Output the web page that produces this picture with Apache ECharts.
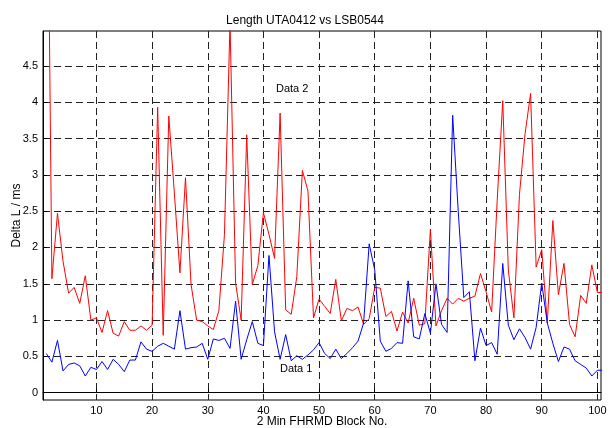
<!DOCTYPE html>
<html lang="en">
<head>
    <meta charset="UTF-8">
    <title>Length UTA0412 vs LSB0544</title>
    <script src="https://cdn.jsdelivr.net/npm/echarts@6/dist/echarts.min.js"></script>
    <style>
        body { margin: 0; background: #fff; }
        #chart { width: 610px; height: 428px; }
    </style>
</head>
<body>
    <div id="chart"></div>
<script>
    // block numbers 1..101 (last one only shows as the short tail at the right edge)
    var blockNo = [];
    for (var i = 1; i <= 101; i++) blockNo.push(i);

    // Data 2 (red)
    var data2 = [
        9.2, 1.57, 2.47, 1.81, 1.37, 1.45, 1.23, 1.61, 1.0, 1.03,
        0.83, 1.13, 0.82, 0.78, 0.98, 0.86, 0.86, 0.92, 0.86, 0.93,
        3.93, 0.79, 3.81, 2.75, 1.65, 2.96, 1.49, 1.0, 0.98, 0.92,
        0.87, 1.13, 2.18, 5.1, 1.51, 1.0, 3.55, 1.49, 1.75, 2.48,
        2.18, 1.85, 3.85, 1.14, 1.08, 1.6, 3.06, 2.78, 1.03, 1.29,
        1.19, 1.09, 1.56, 0.99, 1.16, 1.13, 1.18, 0.94, 1.02, 1.45,
        1.44, 1.05, 1.12, 0.85, 1.11, 0.96, 1.30, 0.93, 0.95, 2.25,
        0.92, 1.13, 1.30, 1.22, 1.30, 1.26, 1.30, 1.33, 1.64, 1.39,
        1.11, 2.65, 4.02, 1.69, 1.03, 2.73, 3.56, 4.12, 1.73, 1.97,
        0.96, 2.37, 1.35, 1.78, 0.94, 0.77, 1.34, 1.23, 1.76, 1.38,
        1.38
    ];

    // Data 1 (blue)
    var data1 = [
        0.54, 0.42, 0.72, 0.30, 0.39, 0.41, 0.37, 0.23, 0.35, 0.32,
        0.43, 0.32, 0.46, 0.39, 0.29, 0.45, 0.45, 0.70, 0.60, 0.57,
        0.64, 0.68, 0.64, 0.60, 1.13, 0.60, 0.62, 0.63, 0.68, 0.46,
        0.74, 0.72, 0.75, 0.61, 1.26, 0.46, 0.73, 0.98, 0.68, 0.65,
        1.89, 0.84, 0.46, 0.80, 0.44, 0.51, 0.46, 0.52, 0.59, 0.69,
        0.54, 0.47, 0.60, 0.47, 0.54, 0.62, 0.71, 0.96, 2.05, 1.69,
        0.71, 0.57, 0.61, 0.69, 0.68, 1.54, 0.77, 0.74, 1.09, 0.82,
        1.50, 0.94, 0.83, 3.82, 2.5, 1.31, 1.39, 0.44, 0.89, 0.65,
        0.69, 0.53, 1.78, 0.93, 0.73, 0.88, 0.76, 0.60, 0.90, 1.51,
        0.96, 0.68, 0.43, 0.63, 0.60, 0.44, 0.39, 0.34, 0.23, 0.31,
        0.31
    ];

    var xTicks = [10, 20, 30, 40, 50, 60, 70, 80, 90, 100];
    var yTicks = [0, 0.5, 1, 1.5, 2, 2.5, 3, 3.5, 4, 4.5];

    function pairs(ys) {
        return ys.map(function (v, k) { return [blockNo[k], v]; });
    }

    var font = 'Liberation Sans, Arial, sans-serif';
    var gridLine = { show: true, lineStyle: { color: '#222', width: 1, type: [7, 4] } };

    var option = {
        animation: false,
        backgroundColor: '#fff',
        title: {
            text: 'Length UTA0412 vs LSB0544',
            left: 'center',
            top: 10,
            textStyle: { fontFamily: font, fontSize: 12, fontWeight: 'normal', color: '#000' }
        },
        grid: {
            left: 43, top: 31, right: 9, bottom: 28,
            outerBoundsMode: 'none',
            containLabel: false,
            show: true, borderColor: '#000', borderWidth: 1, backgroundColor: '#fff'
        },
        xAxis: {
            type: 'value',
            min: 0.4,
            max: 100.65,
            axisLine: { show: true, lineStyle: { color: '#000' } },
            axisTick: { show: true, inside: true, length: 4, customValues: xTicks, lineStyle: { color: '#000' } },
            axisLabel: { customValues: xTicks, fontFamily: font, fontSize: 11, color: '#000', margin: 5 },
            splitLine: gridLine
        },
        yAxis: {
            type: 'value',
            min: -0.1,
            max: 4.98,
            name: 'Delta L / ms',
            nameLocation: 'middle',
            nameGap: 20,
            nameMoveOverlap: false,
            nameTextStyle: { fontFamily: font, fontSize: 12, color: '#000' },
            axisLine: { show: true, lineStyle: { color: '#000' } },
            axisTick: { show: true, inside: true, length: 4, customValues: yTicks, lineStyle: { color: '#000' } },
            axisLabel: { customValues: yTicks, fontFamily: font, fontSize: 11, color: '#000', margin: 5 },
            splitLine: gridLine
        },
        graphic: [
            { type: 'text', left: 276, top: 83, style: { text: 'Data 2', fontFamily: font, fontSize: 11, fill: '#000' } },
            { type: 'text', left: 280, top: 363, style: { text: 'Data 1', fontFamily: font, fontSize: 11, fill: '#000' } },
            {
                type: 'text', x: 322, y: 422,
                style: { text: '2 Min FHRMD Block No.', fontFamily: font, fontSize: 12, fill: '#000',
                         textAlign: 'center', textVerticalAlign: 'middle' }
            }
        ],
        series: [
            {
                name: 'Data 2',
                type: 'line',
                data: pairs(data2),
                showSymbol: false,
                clip: true,
                lineStyle: { color: '#ff0000', width: 1 },
                z: 3
            },
            {
                name: 'Data 1',
                type: 'line',
                data: pairs(data1),
                showSymbol: false,
                clip: true,
                lineStyle: { color: '#0000ff', width: 1 },
                z: 4
            }
        ]
    };

    var mychart = echarts.init(document.getElementById('chart'));
    mychart.setOption(option);
    window.onresize = function () { mychart.resize(); };
</script>
</body>
</html>
